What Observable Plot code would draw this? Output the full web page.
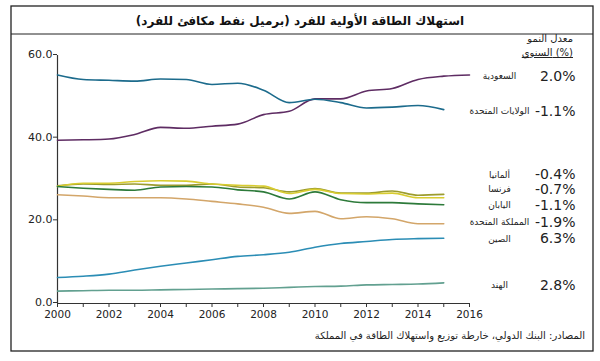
<!DOCTYPE html>
<html>
<head>
<meta charset="utf-8">
<script src="https://cdn.jsdelivr.net/npm/d3@7"></script>
<script src="https://cdn.jsdelivr.net/npm/@observablehq/plot@0.6"></script>
<style>
  html, body { margin: 0; padding: 0; background: #fff; }
</style>
</head>
<body>
<div id="chart"></div>
<script>
// ---- Data (barrels of oil equivalent per capita) ----
const years = [2000, 2001, 2002, 2003, 2004, 2005, 2006, 2007, 2008, 2009, 2010, 2011, 2012, 2013, 2014, 2015];
const yearsSaudi = [2000, 2001, 2002, 2003, 2004, 2005, 2006, 2007, 2008, 2009, 2010, 2011, 2012, 2013, 2014, 2015, 2016];

const saudi   = [39.5, 39.6, 39.8, 40.9, 42.6, 42.4, 42.9, 43.4, 45.7, 46.5, 49.5, 49.5, 51.4, 52.0, 54.2, 55.0, 55.3];
const usa     = [55.3, 54.2, 54.0, 53.8, 54.3, 54.2, 53.0, 53.3, 51.6, 48.6, 49.4, 48.6, 47.3, 47.5, 47.9, 46.9];
const germany = [28.5, 28.9, 28.8, 28.9, 28.6, 28.6, 28.9, 28.2, 28.0, 27.0, 27.8, 26.7, 26.7, 27.2, 26.2, 26.4];
const france  = [28.3, 29.1, 29.1, 29.5, 29.7, 29.6, 28.9, 28.6, 28.4, 26.6, 27.6, 26.6, 26.5, 26.7, 25.6, 25.6];
const japan   = [28.3, 27.9, 27.6, 27.4, 28.2, 28.3, 28.2, 27.5, 27.0, 25.3, 27.0, 25.1, 24.4, 24.4, 24.1, 23.9];
const uk      = [26.3, 26.0, 25.6, 25.6, 25.6, 25.3, 24.7, 24.1, 23.3, 21.8, 22.3, 20.5, 21.0, 20.5, 19.3, 19.3];
const china   = [6.3, 6.6, 7.1, 8.1, 9.0, 9.8, 10.6, 11.4, 11.8, 12.4, 13.6, 14.5, 15.0, 15.5, 15.7, 15.8];
const india   = [3.0, 3.1, 3.2, 3.2, 3.3, 3.4, 3.5, 3.6, 3.7, 3.9, 4.1, 4.2, 4.5, 4.6, 4.7, 5.0];

const countries = ["السعودية", "الولايات المتحدة", "ألمانيا", "فرنسا", "اليابان", "المملكة المتحدة", "الصين", "الهند"];
const growth    = ["2.0%", "-1.1%", "-0.4%", "-0.7%", "-1.1%", "-1.9%", "6.3%", "2.8%"];

const yTicks = [0, 20, 40, 60];
const xTicks = [2000, 2001, 2002, 2003, 2004, 2005, 2006, 2007, 2008, 2009, 2010, 2011, 2012, 2013, 2014, 2015, 2016];

const titleText   = "استهلاك الطاقة الأولية للفرد (برميل نفط مكافئ للفرد)\u200F";
const headerLine1 = "معدل النمو";
const headerLine2 = "السنوي (%)";
const captionText = "المصادر: البنك الدولي، خارطة توزيع واستهلاك الطاقة في المملكة";

// ---- Styling / layout ----
const palette = ["#5e2c63", "#1c6b8c", "#9c9c2e", "#d8cc30", "#2d7a3a", "#d3a66a", "#2b8db5", "#62a090"];
const labelY  = [55.0, 46.5, 31.1, 27.6, 23.7, 19.7, 15.65, 4.35];
const FONT = "'DejaVu Sans', sans-serif";

const seriesValues = [saudi, usa, germany, france, japan, uk, china, india];
const tidy = seriesValues.flatMap((vals, i) => {
  const ys = i === 0 ? yearsSaudi : years;
  return vals.map((v, j) => ({country: countries[i], year: ys[j], value: v}));
});

const svg = Plot.plot({
  width: 600,
  height: 361,
  marginLeft: 57,
  marginRight: 131,
  marginTop: 55,
  marginBottom: 58,
  style: {fontFamily: FONT, fontSize: "11px", color: "#222", background: "#fff", overflow: "visible"},
  x: {domain: [2000, 2016], label: null},
  y: {domain: [0, 60], label: null},
  color: {domain: countries, range: palette},
  marks: [
    Plot.axisX({ticks: xTicks, tickFormat: d => (d % 2 === 0 ? String(d) : ""), tickSize: 4, tickPadding: 3, fontSize: 10.5, stroke: "#333"}),
    Plot.axisY({ticks: yTicks, tickFormat: d => d.toFixed(1), tickSize: 4, tickPadding: 1, fontSize: 11, dy: -1, stroke: "#333"}),
    Plot.ruleX([2000], {stroke: "#333", strokeWidth: 1.2}),
    Plot.ruleY([0], {stroke: "#333", strokeWidth: 1.2}),
    Plot.line(tidy, {x: "year", y: "value", z: "country", stroke: "country", strokeWidth: 1.6, curve: "monotone-x"}),
    Plot.text(countries, {y: (d, i) => labelY[i], text: d => d, frameAnchor: "right", dx: 30, textAnchor: "middle", fontSize: 9, fill: "#222"}),
    Plot.text(growth, {y: (d, i) => labelY[i], text: d => d, frameAnchor: "right", dx: 106, textAnchor: "end", fontSize: 14, fill: "#222"})
  ]
});

const s = d3.select(svg);
// outer box
s.append("rect").attr("x", 11).attr("y", 6).attr("width", 582).attr("height", 345)
  .attr("fill", "none").attr("stroke", "#222").attr("stroke-width", 1.3);
s.append("line").attr("x1", 11).attr("x2", 593).attr("y1", 34).attr("y2", 34)
  .attr("stroke", "#222").attr("stroke-width", 1);
// title
s.append("text").attr("x", 300).attr("y", 25).attr("text-anchor", "middle")
  .attr("font-family", FONT).attr("font-size", 12).attr("font-weight", "bold").attr("fill", "#111")
  .text(titleText);
// header of growth column
s.append("text").attr("x", 573).attr("y", 42).attr("text-anchor", "end")
  .attr("font-family", FONT).attr("font-size", 10).attr("fill", "#222").text(headerLine1);
s.append("text").attr("x", 573).attr("y", 56).attr("text-anchor", "end")
  .attr("font-family", FONT).attr("font-size", 10).attr("fill", "#222")
  .attr("text-decoration", "underline").text(headerLine2);
// caption
s.append("text").attr("x", 585).attr("y", 339).attr("text-anchor", "end")
  .attr("font-family", FONT).attr("font-size", 10).attr("fill", "#222").text(captionText);

document.getElementById("chart").appendChild(svg);
</script>
</body>
</html>
